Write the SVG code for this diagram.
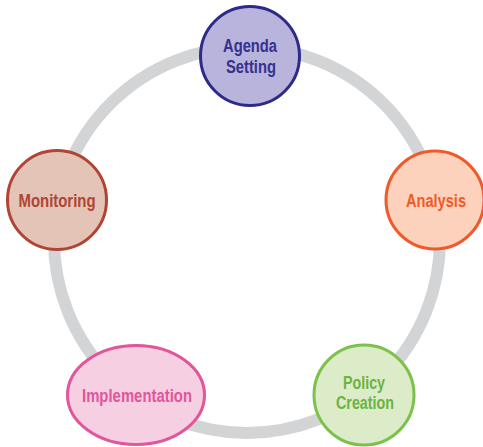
<svg xmlns="http://www.w3.org/2000/svg" width="483" height="447" viewBox="0 0 483 447">
<style>
.lbl{font-family:"Liberation Sans Narrow","Liberation Sans",Arial,sans-serif;font-weight:bold;font-size:17.5px;text-anchor:middle}
.node{stroke-width:3}
</style>
<rect width="483" height="447" fill="#ffffff"/>
<g id="connectors">
<circle cx="247" cy="240" r="193" fill="none" stroke="#d3d4d6" stroke-width="12"/>
</g>
<g id="agenda">
<circle class="node" cx="250" cy="56" r="49.5" fill="#b8b4dc" stroke="#2e2a8a"/>
<text class="lbl" x="250" y="52" fill="#35318f" textLength="54" lengthAdjust="spacingAndGlyphs">Agenda</text>
<text class="lbl" x="251" y="73" fill="#35318f" textLength="50" lengthAdjust="spacingAndGlyphs">Setting</text>
</g>
<g id="analysis">
<circle class="node" cx="435" cy="200" r="49" fill="#fdd2bc" stroke="#f05a2a"/>
<text class="lbl" x="436" y="207" fill="#f05a2a" textLength="60" lengthAdjust="spacingAndGlyphs">Analysis</text>
</g>
<g id="policy">
<circle class="node" cx="364" cy="395" r="50" fill="#dcebc8" stroke="#7cc24a"/>
<text class="lbl" x="364" y="389" fill="#6cb33f" textLength="42" lengthAdjust="spacingAndGlyphs">Policy</text>
<text class="lbl" x="365" y="409" fill="#6cb33f" textLength="58" lengthAdjust="spacingAndGlyphs">Creation</text>
</g>
<g id="implementation">
<ellipse class="node" cx="136" cy="395" rx="68.5" ry="49.5" fill="#f6d0e2" stroke="#e2559a"/>
<text class="lbl" x="137" y="402" fill="#e2559a" textLength="110" lengthAdjust="spacingAndGlyphs">Implementation</text>
</g>
<g id="monitoring">
<circle class="node" cx="57" cy="200" r="49.5" fill="#e3c4b6" stroke="#b04535"/>
<text class="lbl" x="57" y="207" fill="#b04535" textLength="77" lengthAdjust="spacingAndGlyphs">Monitoring</text>
</g>
</svg>
